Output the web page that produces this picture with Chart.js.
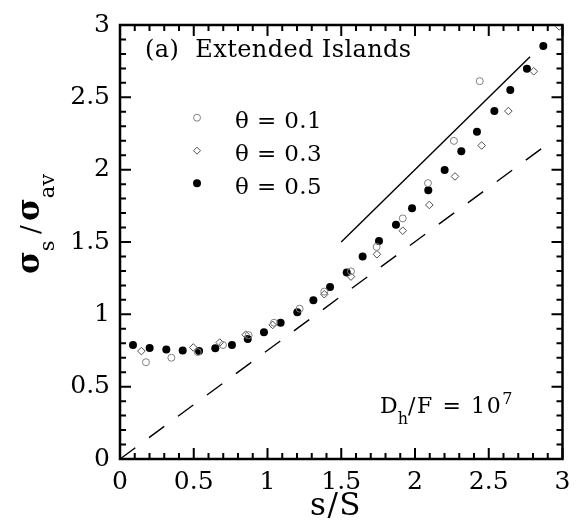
<!DOCTYPE html>
<html><head><meta charset="utf-8">
<script src="https://cdn.jsdelivr.net/npm/chart.js@4/dist/chart.umd.min.js"></script>
<style>html,body{margin:0;padding:0;background:#fff}#wrap{width:583px;height:530px}</style>
</head><body><div id="wrap"><canvas id="c" width="583" height="530"></canvas></div>
<script>
// ---- data ----
const theta01X = [0.176,0.348,0.527,0.698,0.872,1.044,1.218,1.385,1.566,1.740,1.917,2.088,2.264,2.439];
const theta01Y = [0.669,0.700,0.739,0.788,0.856,0.942,1.039,1.157,1.297,1.466,1.663,1.907,2.199,2.612];
const theta03X = [0.145,0.497,0.676,0.852,1.035,1.385,1.566,1.742,1.917,2.097,2.271,2.452,2.633,2.805,2.978];
const theta03Y = [0.746,0.771,0.805,0.859,0.927,1.139,1.261,1.415,1.578,1.756,1.953,2.167,2.405,2.680,2.990];
const theta05X = [0.088,0.201,0.314,0.425,0.536,0.646,0.759,0.866,0.976,1.089,1.202,1.311,1.424,1.537,1.645,1.756,1.871,1.980,2.090,2.201,2.314,2.420,2.538,2.646,2.759,2.870];
const theta05Y = [0.788,0.768,0.757,0.750,0.747,0.766,0.788,0.829,0.877,0.942,1.015,1.098,1.189,1.290,1.399,1.507,1.620,1.733,1.858,1.998,2.127,2.262,2.405,2.551,2.698,2.854];
const solidLineX = [1.5, 2.78];
const solidLineY = [1.5, 2.78];
const dashLineX = [0, 2.93];
const dashLineY = [0, 2.2];
const xTickLabels = ['0','0.5','1','1.5','2','2.5','3'];
const yTickLabels = ['0','0.5','1','1.5','2','2.5','3'];
const seriesLabels = ['θ = 0.1','θ = 0.3','θ = 0.5'];

const pts = (xs, ys) => xs.map((v, i) => ({x: v, y: ys[i]}));
const SERIF = '"DejaVu Serif", serif';

function drawMarker(ctx, kind, cx, cy, r) {
  ctx.save();
  ctx.beginPath();
  if (kind === 'open') {
    ctx.arc(cx, cy, r, 0, Math.PI * 2);
    ctx.strokeStyle = '#808080'; ctx.lineWidth = 1; ctx.stroke();
  } else if (kind === 'diamond') {
    ctx.moveTo(cx, cy - r); ctx.lineTo(cx + r, cy); ctx.lineTo(cx, cy + r); ctx.lineTo(cx - r, cy); ctx.closePath();
    ctx.strokeStyle = '#505050'; ctx.lineWidth = 1; ctx.stroke();
  } else {
    ctx.arc(cx, cy, r, 0, Math.PI * 2);
    ctx.fillStyle = '#000'; ctx.fill();
  }
  ctx.restore();
}

function drawSeq(ctx, x, y, parts) {
  let cx = x;
  for (const p of parts) {
    ctx.font = p.font;
    ctx.letterSpacing = (p.ls || 0) + 'px';
    ctx.fillText(p.t, cx, y + (p.dy || 0));
    cx += ctx.measureText(p.t).width;
  }
  ctx.letterSpacing = '0px';
}

const deco = {
  id: 'deco',
  afterDatasetsDraw(chart) {
    const {ctx, chartArea: a, scales: {x, y}} = chart;
    ctx.save();
    ctx.strokeStyle = '#000';
    ctx.lineWidth = 2;
    for (let i = 0; i <= 30; i++) {
      const v = i / 10;
      const L = (i % 5 === 0) ? 11 : 6;
      const px = x.getPixelForValue(v), py = y.getPixelForValue(v);
      ctx.beginPath();
      ctx.moveTo(px, a.bottom); ctx.lineTo(px, a.bottom - L);
      ctx.moveTo(px, a.top); ctx.lineTo(px, a.top + L);
      ctx.moveTo(a.left, py); ctx.lineTo(a.left + L, py);
      ctx.moveTo(a.right, py); ctx.lineTo(a.right - L, py);
      ctx.stroke();
    }
    ctx.lineWidth = 2.5;
    ctx.strokeRect(a.left, a.top, a.right - a.left, a.bottom - a.top);
    ctx.restore();
  },
  afterDraw(chart) {
    const {ctx} = chart;
    ctx.save();
    ctx.fillStyle = '#000';
    ctx.textBaseline = 'alphabetic';
    ctx.textAlign = 'left';
    // panel label
    drawSeq(ctx, 145, 57, [{t: '(a)  Extended Islands', font: '24px ' + SERIF, ls: 0.4}]);
    // legend
    const kinds = ['open', 'diamond', 'filled'];
    const ly = [117.7, 150.7, 183.3];
    for (let i = 0; i < 3; i++) {
      drawMarker(ctx, kinds[i], 197, ly[i], kinds[i] === 'filled' ? 4 : 3.5);
      drawSeq(ctx, 235, ly[i] + 10.5, [{t: seriesLabels[i], font: '23px ' + SERIF, ls: 0.4}]);
    }
    // D_h/F = 10^7
    drawSeq(ctx, 380, 413, [
      {t: 'D', font: '22px ' + SERIF},
      {t: 'h', font: '16px ' + SERIF, dy: 11},
      {t: '/F = 10', font: '22px ' + SERIF, ls: 1.6},
      {t: '7', font: '16px ' + SERIF, dy: -9}
    ]);
    // x title
    drawSeq(ctx, 310, 515, [{t: 's/S', font: '31px ' + SERIF, ls: 1.5}]);
    // y title (rotated)
    ctx.translate(39, 274);
    ctx.rotate(-Math.PI / 2);
    drawSeq(ctx, 0, 0, [
      {t: 'σ', font: 'bold 31px ' + SERIF},
      {t: 's', font: '21px ' + SERIF, dy: 15},
      {t: ' / ', font: '26px ' + SERIF, ls: -2},
      {t: 'σ', font: 'bold 31px ' + SERIF},
      {t: 'av', font: '21px ' + SERIF, dy: 15}
    ]);
    ctx.restore();
  }
};

new Chart(document.getElementById('c'), {
  type: 'scatter',
  data: {
    datasets: [
      {label: 'solid', data: pts(solidLineX, solidLineY), showLine: true, pointRadius: 0, borderColor: '#000', borderWidth: 1.4, fill: false},
      {label: 'dashed', data: pts(dashLineX, dashLineY), showLine: true, pointRadius: 0, borderColor: '#000', borderWidth: 1.4, borderDash: [19, 17], fill: false},
      {label: seriesLabels[0], data: pts(theta01X, theta01Y), pointStyle: 'circle', pointRadius: 3.5, backgroundColor: 'rgba(0,0,0,0)', borderColor: '#808080', borderWidth: 1},
      {label: seriesLabels[1], data: pts(theta03X, theta03Y), pointStyle: 'rectRot', pointRadius: 3.8, backgroundColor: 'rgba(0,0,0,0)', borderColor: '#505050', borderWidth: 1},
      {label: seriesLabels[2], data: pts(theta05X, theta05Y), pointStyle: 'circle', pointRadius: 4, backgroundColor: '#000', borderColor: '#000', borderWidth: 0}
    ]
  },
  options: {
    responsive: false,
    animation: false,
    devicePixelRatio: 1,
    layout: {padding: {left: 0, top: 16.5, right: 20.5, bottom: 0}},
    plugins: {legend: {display: false}, tooltip: {enabled: false}},
    scales: {
      x: {
        type: 'linear', min: 0, max: 3,
        grid: {display: false, drawTicks: false},
        border: {display: false},
        afterFit: s => { s.height = 71; },
        ticks: {stepSize: 0.5, padding: 8, color: '#000', font: {family: SERIF, size: 25},
          callback: (v) => xTickLabels[Math.round(v * 2)] ?? ''}
      },
      y: {
        type: 'linear', min: 0, max: 3,
        grid: {display: false, drawTicks: false},
        border: {display: false},
        afterFit: s => { s.width = 120; },
        ticks: {stepSize: 0.5, padding: 10, color: '#000', font: {family: SERIF, size: 25},
          callback: (v) => yTickLabels[Math.round(v * 2)] ?? ''}
      }
    }
  },
  plugins: [deco]
});
</script>
</body></html>
